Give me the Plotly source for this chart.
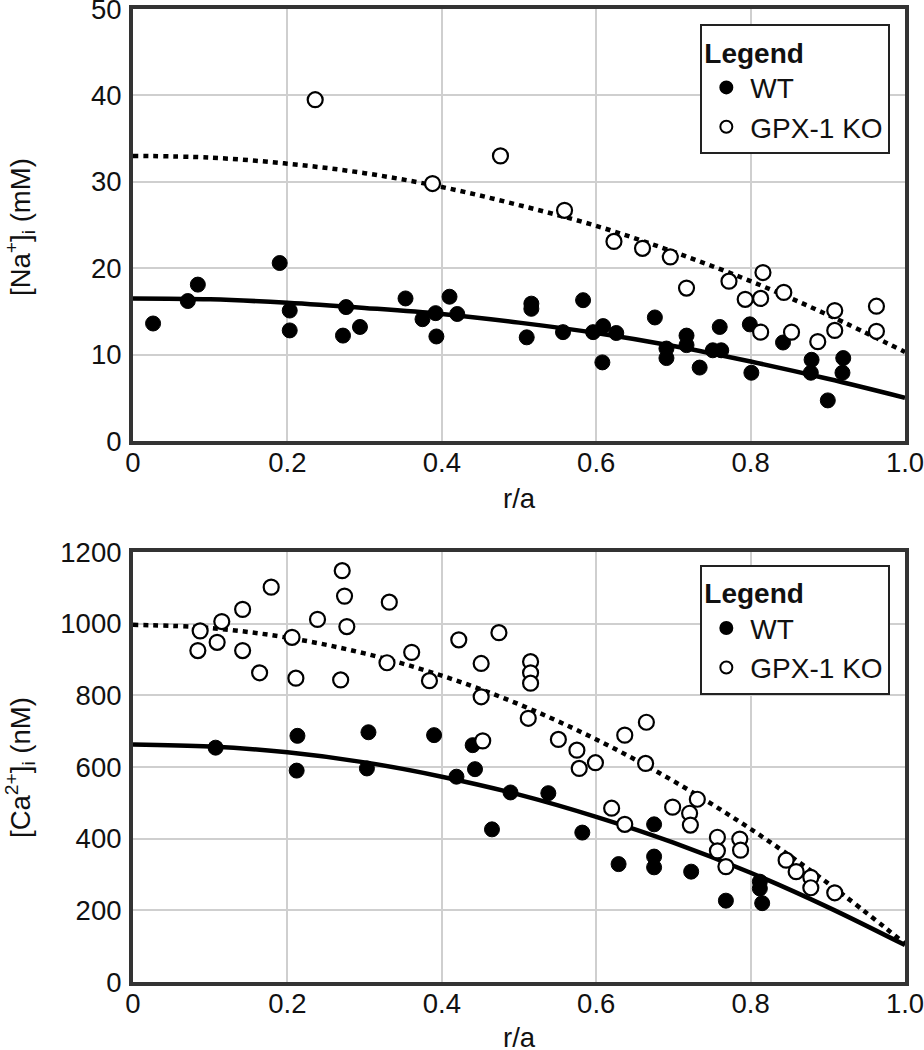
import plotly.graph_objects as go
from plotly.subplots import make_subplots

# --- data ---
na_wt_x = [0.026, 0.071, 0.084, 0.19, 0.203, 0.203, 0.272, 0.276, 0.294, 0.353, 0.375, 0.392, 0.393,
           0.41, 0.42, 0.516, 0.516, 0.51, 0.557, 0.583, 0.596, 0.609, 0.626, 0.608, 0.676, 0.691,
           0.691, 0.717, 0.717, 0.734, 0.751, 0.762, 0.76, 0.799, 0.801, 0.842, 0.879, 0.878, 0.9,
           0.92, 0.919]
na_wt_y = [13.6, 16.2, 18.1, 20.6, 15.1, 12.8, 12.2, 15.5, 13.2, 16.5, 14.1, 14.8, 12.1,
           16.7, 14.7, 15.9, 15.3, 12.0, 12.6, 16.3, 12.6, 13.3, 12.5, 9.1, 14.3, 10.7,
           9.6, 12.2, 11.1, 8.5, 10.5, 10.5, 13.2, 13.5, 7.9, 11.4, 9.4, 7.9, 4.7,
           9.6, 7.9]
na_ko_x = [0.236, 0.388, 0.476, 0.559, 0.623, 0.66, 0.696, 0.717, 0.772, 0.816, 0.793, 0.813,
           0.843, 0.813, 0.853, 0.887, 0.909, 0.909, 0.963, 0.963]
na_ko_y = [39.5, 29.8, 33.0, 26.7, 23.1, 22.3, 21.3, 17.7, 18.5, 19.5, 16.4, 16.5,
           17.2, 12.6, 12.6, 11.5, 15.1, 12.8, 15.6, 12.7]

ca_wt_x = [0.107, 0.213, 0.212, 0.305, 0.303, 0.39, 0.419, 0.44, 0.443, 0.465, 0.489, 0.538,
           0.582, 0.629, 0.675, 0.675, 0.675, 0.723, 0.768, 0.812, 0.812, 0.815]
ca_wt_y = [654, 687, 590, 697, 596, 689, 573, 661, 594, 426, 529, 527,
           417, 329, 440, 350, 320, 308, 227, 280, 261, 220]
ca_ko_x = [0.087, 0.084, 0.109, 0.115, 0.142, 0.142, 0.164, 0.179, 0.206, 0.211, 0.239, 0.271,
           0.274, 0.277, 0.269, 0.332, 0.329, 0.361, 0.384, 0.422, 0.474, 0.451, 0.451, 0.515,
           0.515, 0.515, 0.512, 0.453, 0.551, 0.575, 0.578, 0.599, 0.637, 0.665, 0.664, 0.62,
           0.637, 0.699, 0.731, 0.721, 0.722, 0.757, 0.757, 0.786, 0.787, 0.768, 0.846, 0.859,
           0.878, 0.878, 0.909]
ca_ko_y = [980, 925, 948, 1006, 1040, 925, 863, 1102, 962, 848, 1012, 1148,
           1077, 992, 843, 1060, 891, 920, 841, 955, 975, 889, 796, 894,
           863, 834, 736, 673, 677, 647, 596, 612, 689, 725, 610, 485,
           440, 488, 510, 471, 438, 404, 366, 399, 368, 322, 340, 308,
           292, 263, 249]

# fitted curves, read at r/a = 0, 0.1, ..., 1.0
fit_x = [0.0, 0.1, 0.2, 0.3, 0.4, 0.5, 0.6, 0.7, 0.8, 0.9, 1.0]
na_wt_fit = [16.5, 16.4, 16.0, 15.4, 14.7, 13.7, 12.5, 11.0, 9.2, 7.2, 5.0]
na_ko_fit = [33.0, 32.8, 32.1, 31.0, 29.4, 27.3, 24.9, 21.9, 18.5, 14.6, 10.3]
ca_wt_fit = [663, 657, 641, 613, 573, 523, 461, 389, 305, 209, 103]
ca_ko_fit = [997, 988, 961, 917, 855, 775, 677, 561, 427, 276, 107]

x_ticks = [0, 0.2, 0.4, 0.6, 0.8, 1.0]
x_ticktext = ["0", "0.2", "0.4", "0.6", "0.8", "1.0"]
na_ticks = [0, 10, 20, 30, 40, 50]
ca_ticks = [0, 200, 400, 600, 800, 1000, 1200]

FONT = "Liberation Sans, Arial, Helvetica, sans-serif"
INK = "#111111"
FS = 27.5

fig = make_subplots(rows=2, cols=1)

panels = [
    (1, "legend", na_wt_x, na_wt_y, na_ko_x, na_ko_y, na_wt_fit, na_ko_fit),
    (2, "legend2", ca_wt_x, ca_wt_y, ca_ko_x, ca_ko_y, ca_wt_fit, ca_ko_fit),
]
for row, leg, wx, wy, kx, ky, wfit, kfit in panels:
    fig.add_trace(go.Scatter(x=fit_x, y=wfit, mode="lines", line=dict(color="black", width=4.5, shape="spline"),
                             showlegend=False, hoverinfo="skip"), row=row, col=1)
    fig.add_trace(go.Scatter(x=fit_x, y=kfit, mode="lines",
                             line=dict(color="black", width=4.5, shape="spline", dash="5px,5px"),
                             showlegend=False, hoverinfo="skip"), row=row, col=1)
    fig.add_trace(go.Scatter(x=wx, y=wy, mode="markers", name="WT", legend=leg,
                             marker=dict(symbol="circle", size=15, color="black",
                                         line=dict(color="black", width=1))), row=row, col=1)
    fig.add_trace(go.Scatter(x=kx, y=ky, mode="markers", name="GPX-1 KO", legend=leg,
                             marker=dict(symbol="circle", size=15, color="white",
                                         line=dict(color="black", width=2.2))), row=row, col=1)

axis_common = dict(
    showline=True, linewidth=4, linecolor="#333333", mirror=True,
    showgrid=True, gridcolor="#cfcfcf", gridwidth=2, zeroline=False,
    automargin=False, ticklabeloverflow="allow",
    tickfont=dict(family=FONT, size=FS, color=INK),
)
fig.update_xaxes(range=[0, 1.0], tickvals=x_ticks, ticktext=x_ticktext, ticks="",
                 ticklabelstandoff=-6, **axis_common)
fig.update_yaxes(ticks="outside", ticklen=2, tickcolor="rgba(0,0,0,0)", **axis_common)
fig.update_yaxes(range=[0, 50], tickvals=na_ticks, row=1, col=1)
fig.update_yaxes(range=[0, 1200], tickvals=ca_ticks, row=2, col=1)

fig.update_layout(
    xaxis=dict(domain=[0, 1]),
    yaxis=dict(domain=[0.556, 1.0]),
    xaxis2=dict(domain=[0, 1]),
    yaxis2=dict(domain=[0.0, 0.4419]),
)

legend_style = dict(
    title=dict(text="<b>Legend</b>", font=dict(family=FONT, size=28, color=INK)),
    font=dict(family=FONT, size=28, color=INK),
    bgcolor="white", bordercolor="#222222", borderwidth=2,
    xanchor="right", yanchor="top", x=0.981, itemsizing="constant",
    itemwidth=38, tracegroupgap=0,
)
fig.update_layout(
    legend=dict(y=0.9843, **legend_style),
    legend2=dict(y=0.4286, **legend_style),
)

title_font = dict(family=FONT, size=FS, color=INK)
for text, y in [("[Na<sup>+</sup>]<sub>i</sub> (mM)", 0.776), ("[Ca<sup>2+</sup>]<sub>i</sub> (nM)", 0.221)]:
    fig.add_annotation(text=text, xref="paper", yref="paper", x=-0.1464, y=y,
                       xanchor="center", yanchor="middle", textangle=-90, showarrow=False, font=title_font)
for y in [0.4974, -0.0575]:
    fig.add_annotation(text="r/a", xref="paper", yref="paper", x=0.5, y=y,
                       xanchor="center", yanchor="middle", showarrow=False, font=title_font)

fig.update_layout(
    width=924, height=1050,
    margin=dict(l=133, r=19, t=9, b=68),
    paper_bgcolor="white", plot_bgcolor="white",
    font=dict(family=FONT, color=INK),
)

# drop the default body margin so the 924x1050 figure fills the window exactly
fig.write_html("out.html", config={"displayModeBar": False},
               post_script="document.body.style.margin='0';")
